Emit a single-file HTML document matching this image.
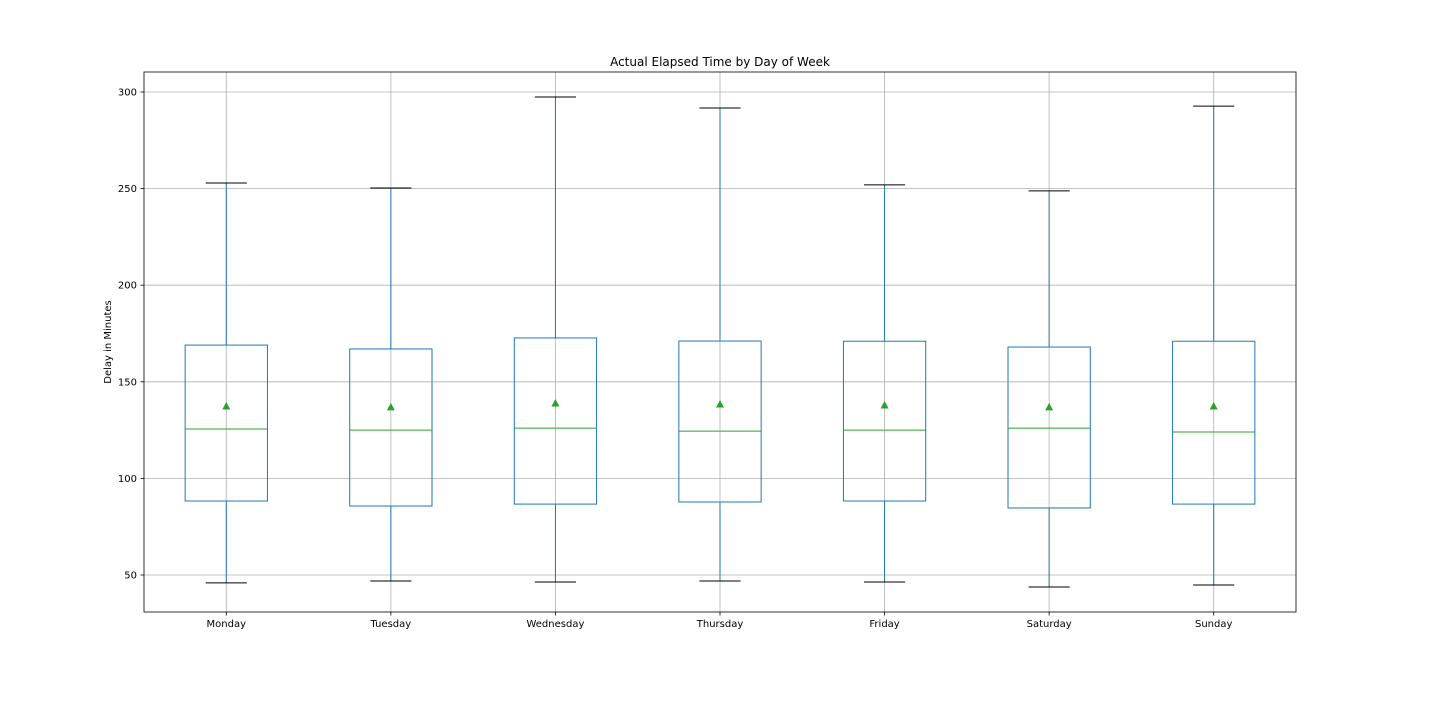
<!DOCTYPE html>
<html><head><meta charset="utf-8"><style>
body{margin:0;background:#fff;}
svg text{font-family:"DejaVu Sans","Liberation Sans",sans-serif;fill:#000;}
</style></head><body>
<svg id="chart" width="1440" height="720" xmlns="http://www.w3.org/2000/svg"></svg>
<script>
const categories=["Monday","Tuesday","Wednesday","Thursday","Friday","Saturday","Sunday"];
const whiskerHigh=[252.9,250.3,297.4,291.7,251.9,248.8,292.7];
const q3=[169,167,172.7,171.1,171,168,171];
const median=[125.6,125,126,124.5,125,126,124];
const q1=[88.3,85.7,86.7,87.8,88.3,84.7,86.7];
const whiskerLow=[45.9,46.9,46.4,46.9,46.4,43.8,44.8];
const means=[137.5,137,139,138.5,138,137,137.5];
const yTicks=[50,100,150,200,250,300];

const svg=document.getElementById('chart');
const NS='http://www.w3.org/2000/svg';
const L=144,R=1296,T=72,B=612;
const y=v=>575-(v-50)*1.932;
const step=(R-L)/categories.length;
const x=i=>L+step*(i+0.5);
function mk(tag,attrs,name,parent){const e=document.createElementNS(NS,tag);for(const k in attrs)e.setAttribute(k,attrs[k]);


(parent||svg).appendChild(e);return e;}
// grid
yTicks.forEach(v=>{
 mk('line',{x1:L,x2:R,y1:y(v),y2:y(v),stroke:'#b0b0b0','stroke-width':0.8},'y-gridline');
 mk('line',{x1:L-3.5,x2:L,y1:y(v),y2:y(v),stroke:'#000','stroke-width':0.8},'y-tick');
 const t=mk('text',{x:L-7,y:y(v)+3.5,'text-anchor':'end','font-size':10},'y-tick-label');t.textContent=v;
});
categories.forEach((c,i)=>{
 mk('line',{x1:x(i),x2:x(i),y1:T,y2:B,stroke:'#b0b0b0','stroke-width':0.8},'x-gridline');
 mk('line',{x1:x(i),x2:x(i),y1:B,y2:B+3.5,stroke:'#000','stroke-width':0.8},'x-tick');
 const t=mk('text',{x:x(i),y:B+15,'text-anchor':'middle','font-size':10},'x-tick-label');t.textContent=c;
});
categories.forEach((c,i)=>{
 const g=mk('g',{},'box-'+c.toLowerCase());
 const cx=x(i),bw=step*0.5,cw=step*0.25;
 mk('line',{x1:cx,x2:cx,y1:y(q3[i]),y2:y(whiskerHigh[i]),stroke:'#1f77b4','stroke-width':1},'upper-whisker',g);
 mk('line',{x1:cx,x2:cx,y1:y(q1[i]),y2:y(whiskerLow[i]),stroke:'#1f77b4','stroke-width':1},'lower-whisker',g);
 mk('line',{x1:cx-cw/2,x2:cx+cw/2,y1:y(whiskerHigh[i]),y2:y(whiskerHigh[i]),stroke:'#000','stroke-width':1},'upper-cap',g);
 mk('line',{x1:cx-cw/2,x2:cx+cw/2,y1:y(whiskerLow[i]),y2:y(whiskerLow[i]),stroke:'#000','stroke-width':1},'lower-cap',g);
 mk('rect',{x:cx-bw/2,y:y(q3[i]),width:bw,height:y(q1[i])-y(q3[i]),fill:'none',stroke:'#1f77b4','stroke-width':1},'iqr-box',g);
 mk('line',{x1:cx-bw/2,x2:cx+bw/2,y1:y(median[i]),y2:y(median[i]),stroke:'#2ca02c','stroke-width':1},'median-line',g);
 const my=y(means[i]);
 mk('polygon',{points:`${cx-4},${my+3.5} ${cx+4},${my+3.5} ${cx},${my-4}`,fill:'#2ca02c'},'mean-marker',g);
});
mk('rect',{x:L,y:T,width:R-L,height:B-T,fill:'none',stroke:'#000','stroke-width':0.8},'plot-frame');
const tt=mk('text',{x:(L+R)/2,y:66,'text-anchor':'middle','font-size':12},'chart-title');tt.textContent='Actual Elapsed Time by Day of Week';
const yl=mk('text',{x:0,y:0,'text-anchor':'middle','font-size':10,transform:`translate(111,${(T+B)/2}) rotate(-90)`},'y-axis-title');yl.textContent='Delay in Minutes';
</script>
</body></html>
